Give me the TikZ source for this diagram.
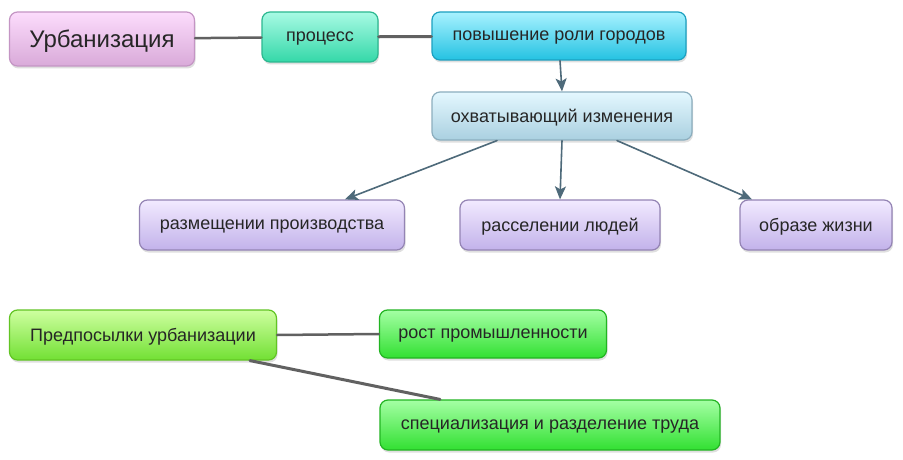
\documentclass[tikz,border=0pt]{standalone}
\usepackage{fontspec}
\setmainfont{Liberation Sans}
\usetikzlibrary{shadows,arrows.meta}
\tikzset{
	box/.style={rounded corners=8pt, line width=1.2pt, inner sep=0pt,
		font=\fontsize{18}{21}\selectfont, text=black!85, text depth=0pt,
		drop shadow={opacity=0.25, shadow xshift=1pt, shadow yshift=-2.5pt}},
	urbbox/.style={box, draw=urbdraw, top color=urbtop, bottom color=urbbot},
	procbox/.style={box, draw=procdraw, top color=proctop, bottom color=procbot},
	rolebox/.style={box, draw=roledraw, top color=roletop, bottom color=rolebot},
	chgbox/.style={box, draw=chgdraw, top color=chgtop, bottom color=chgbot},
	lavbox/.style={box, draw=lavdraw, top color=lavtop, bottom color=lavbot},
	limebox/.style={box, draw=limedraw, top color=limetop, bottom color=limebot},
	greenbox/.style={box, draw=greendraw, top color=greentop, bottom color=greenbot},
	link/.style={draw=black!62, line width=2.5pt},
	arr/.style={draw=arrcol, line width=1.6pt, -{Stealth[length=13pt, width=11pt, inset=3pt]}}
}
\definecolor{urbdraw}{HTML}{C495C4}
\definecolor{urbtop}{HTML}{FCDCFC}
\definecolor{urbbot}{HTML}{D9AAD9}
\definecolor{procdraw}{HTML}{2CB890}
\definecolor{proctop}{HTML}{A8FAE4}
\definecolor{procbot}{HTML}{34D8A8}
\definecolor{roledraw}{HTML}{1CA0C0}
\definecolor{roletop}{HTML}{A8F2FF}
\definecolor{rolebot}{HTML}{24C2E2}
\definecolor{chgdraw}{HTML}{8CAEBE}
\definecolor{chgtop}{HTML}{E4F8FF}
\definecolor{chgbot}{HTML}{AAD0E0}
\definecolor{lavdraw}{HTML}{9484B4}
\definecolor{lavtop}{HTML}{F2EAFF}
\definecolor{lavbot}{HTML}{C2B2EA}
\definecolor{limedraw}{HTML}{62C424}
\definecolor{limetop}{HTML}{CEFFA0}
\definecolor{limebot}{HTML}{72E034}
\definecolor{greendraw}{HTML}{22B422}
\definecolor{greentop}{HTML}{A4FFA4}
\definecolor{greenbot}{HTML}{32E032}
\definecolor{arrcol}{HTML}{4E6A7A}
\begin{document}
\begin{tikzpicture}[x=1pt, y=-1pt, line cap=round]
	\useasboundingbox[fill=white](0,0)rectangle(903,460);
	% top chain
	\node[urbbox, minimum width=185pt, minimum height=54pt, font=\fontsize{24}{28}\selectfont](urb)at(102,39){Урбанизация};
	\node[procbox, minimum width=116pt, minimum height=50pt](proc)at(320,37){процесс};
	\node[rolebox, minimum width=254pt, minimum height=48pt](role)at(559,36){повышение роли городов};
	\node[chgbox, minimum width=260pt, minimum height=48pt](chg)at(562,116){охватывающий изменения};
	\node[lavbox, minimum width=265pt, minimum height=50pt](prod)at(272,225){размещении производства};
	\node[lavbox, minimum width=200pt, minimum height=50pt](people)at(560,225){расселении людей};
	\node[lavbox, minimum width=152pt, minimum height=50pt](life)at(816,225){образе жизни};
	% bottom group
	\node[limebox, minimum width=267pt, minimum height=50pt](pre)at(143,335){Предпосылки урбанизации};
	\node[greenbox, minimum width=227pt, minimum height=48pt](ind)at(493,334){рост промышленности};
	\node[greenbox, minimum width=340pt, minimum height=50pt](spec)at(550,425){специализация и разделение труда};
	\draw[link](urb)--(proc);
	\draw[link, line width=3pt](proc)--(role);
	\draw[link](pre.east)--(ind.west);
	\draw[link, line width=3pt]([xshift=107pt]pre.south)--([xshift=-110pt]spec.north);
	\draw[arr]([xshift=1pt]role.south)--(chg.north);
	\draw[arr]([xshift=-65pt]chg.south)--([xshift=73pt]prod.north);
	\draw[arr](chg.south)--(people.north);
	\draw[arr]([xshift=55pt]chg.south)--([xshift=-64pt]life.north);
\end{tikzpicture}
\end{document}
